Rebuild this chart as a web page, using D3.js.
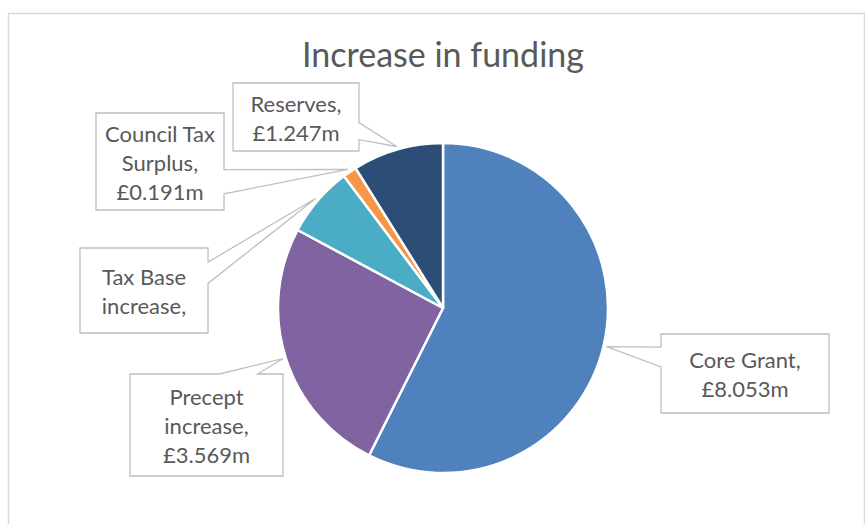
<!DOCTYPE html>
<html>
<head>
<meta charset="utf-8">
<script src="https://cdn.jsdelivr.net/npm/d3@7"></script>
<style>
  body { margin: 0; background: #fff; }
  text { font-family: Lato, "Noto Sans", sans-serif; fill: #595959; }
</style>
</head>
<body>
<div id="chart"></div>
<script>
"use strict";

// data
var categories = ["Core Grant", "Precept increase", "Tax Base increase", "Council Tax Surplus", "Reserves"];
var values = [8.053, 3.569, 0.97, 0.191, 1.247];
// how each label wraps (the value line is cut off for Tax Base in the original)
var labelLines = [["Core Grant,"], ["Precept", "increase,"], ["Tax Base", "increase,"], ["Council Tax", "Surplus,"], ["Reserves,"]];
var showValue = [true, true, false, true, true];
var colors = ["#4F81BD", "#8064A2", "#4BACC6", "#F79646", "#2C4D75"];

// callout box placement (x, y, w, h)
var boxes = [
  {x: 661, y: 334, w: 168, h: 79},
  {x: 130, y: 374, w: 153, h: 102},
  {x: 80, y: 248, w: 128, h: 85},
  {x: 96, y: 113, w: 128, h: 97},
  {x: 233, y: 83, w: 126, h: 68}
];

var width = 865, height = 524;
var cx = 443, cy = 308, radius = 165;

var svg = d3.select("#chart")
  .append("svg")
    .attr("width", width)
    .attr("height", height);

// chart area border
svg.append("rect")
  .attr("x", 8.5)
  .attr("y", 13.5)
  .attr("width", 856)
  .attr("height", 530)
  .style("fill", "none")
  .style("stroke", "#D9D9D9")
  .style("stroke-width", 1.5);

// title
svg.append("text")
  .attr("x", cx)
  .attr("y", 67)
  .attr("text-anchor", "middle")
  .style("font-size", "34px")
  .text("Increase in funding");

var data = categories.map(function(c, i) {
  return {name: c, value: values[i], color: colors[i], lines: labelLines[i], showValue: showValue[i], box: boxes[i]};
});

var pie = d3.pie().sort(null).value(function(d) { return d.value; });
var arcs = pie(data);

var arc = d3.arc().innerRadius(0).outerRadius(radius);
var tipArc = d3.arc().innerRadius(radius + 3).outerRadius(radius + 3);

var g = svg.append("g")
  .attr("transform", "translate(" + cx + "," + cy + ")");

g.selectAll("path")
  .data(arcs)
  .enter()
  .append("path")
    .attr("d", arc)
    .style("fill", function(d) { return d.data.color; })
    .style("stroke", "#fff")
    .style("stroke-width", 2.5)
    .style("stroke-linejoin", "round");

// rectangular callout with a wedge pointing at the slice (office wedgeRectCallout shape)
function calloutPath(b, tip) {
  var w = b.w, h = b.h, x0 = b.x, y0 = b.y;
  var dx = tip[0] - (x0 + w / 2), dy = tip[1] - (y0 + h / 2);
  var dq = dx * h / w;
  var x1 = x0 + w * (dx > 0 ? 7 : 2) / 12, x2 = x0 + w * (dx > 0 ? 10 : 5) / 12;
  var y1 = y0 + h * (dy > 0 ? 7 : 2) / 12, y2 = y0 + h * (dy > 0 ? 10 : 5) / 12;
  var vert = Math.abs(dy) > Math.abs(dq);
  var side = vert ? (dy < 0 ? "top" : "bottom") : (dx < 0 ? "left" : "right");
  var p = d3.path();
  p.moveTo(x0, y0);
  if (side == "top") { p.lineTo(x1, y0); p.lineTo(tip[0], tip[1]); p.lineTo(x2, y0); }
  p.lineTo(x0 + w, y0);
  if (side == "right") { p.lineTo(x0 + w, y1); p.lineTo(tip[0], tip[1]); p.lineTo(x0 + w, y2); }
  p.lineTo(x0 + w, y0 + h);
  if (side == "bottom") { p.lineTo(x2, y0 + h); p.lineTo(tip[0], tip[1]); p.lineTo(x1, y0 + h); }
  p.lineTo(x0, y0 + h);
  if (side == "left") { p.lineTo(x0, y2); p.lineTo(tip[0], tip[1]); p.lineTo(x0, y1); }
  p.closePath();
  return p.toString();
}

var labels = svg.selectAll(".label")
  .data(arcs)
  .enter()
  .append("g")
    .attr("class", "label");

labels.append("path")
  .attr("d", function(d) {
    var t = tipArc.centroid(d);
    return calloutPath(d.data.box, [t[0] + cx, t[1] + cy]);
  })
  .style("fill", "#fff")
  .style("stroke", "#BFBFBF")
  .style("stroke-width", 1.3);

labels.each(function(d) {
  var b = d.data.box;
  var lines = d.data.lines.slice();
  if (d.data.showValue) lines.push("£" + d3.format(".3f")(d.data.value) + "m");
  var mid = b.y + b.h / 2;
  d3.select(this).selectAll("text")
    .data(lines)
    .enter()
    .append("text")
      .attr("x", b.x + b.w / 2)
      .attr("y", function(l, i) { return mid + (i - (lines.length - 1) / 2) * 29 + 9; })
      .attr("text-anchor", "middle")
      .style("font-size", "22px")
      .text(function(l) { return l; });
});
</script>
</body>
</html>
